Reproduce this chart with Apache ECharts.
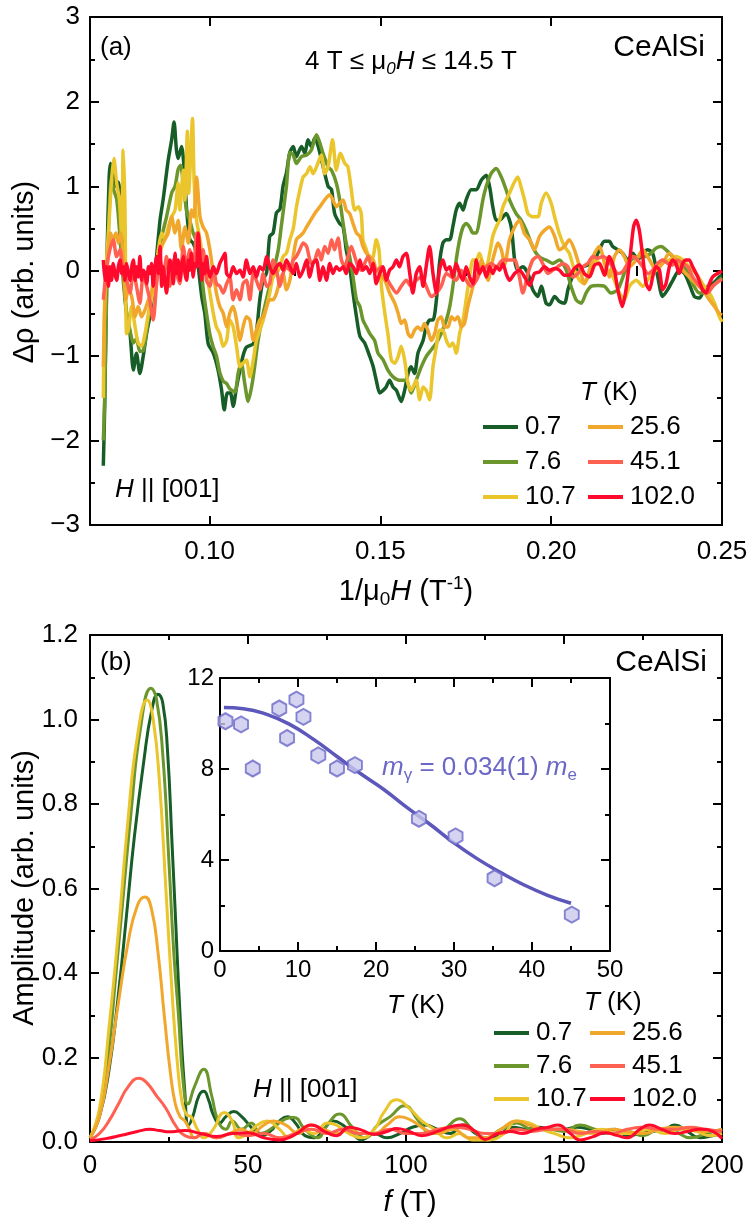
<!DOCTYPE html>
<html>
<head>
<meta charset="utf-8">
<script src="https://cdn.jsdelivr.net/npm/echarts@6/dist/echarts.min.js"></script>
<style>
  html, body { margin: 0; padding: 0; background: #fff; }
  #chart { width: 749px; height: 1222px; }
</style>
</head>
<body>
<div id="chart"></div>
<script>
// temperatures (K) and colours
const temps = ['0.7', '7.6', '10.7', '25.6', '45.1', '102.0'];
const colors = ['#175d27', '#6b962c', '#eac52c', '#f0a72b', '#ff6050', '#ff0a2c'];

// (a) delta rho vs 1/mu0H
const rho07 = [[0.0689,-2.3],[0.0693,-1.6],[0.0700,0.2],[0.0706,1.1],[0.0710,1.27],[0.0716,1.15],[0.0720,1.2],[0.0726,1.0],[0.0733,1.05],[0.0738,0.9],[0.0747,0.05],[0.0757,-0.5],[0.0767,-0.73],[0.0777,-1.17],[0.0786,-0.97],[0.0796,-1.21],[0.0806,-1.0],[0.0816,-0.73],[0.0825,-0.54],[0.0840,-0.03],[0.0855,0.6],[0.0864,0.84],[0.0879,1.31],[0.0889,1.55],[0.0896,1.76],[0.0903,1.43],[0.0908,1.33],[0.0918,1.47],[0.0925,1.24],[0.0933,0.72],[0.0942,0.37],[0.0952,0.33],[0.0962,0.2],[0.0977,-0.3],[0.0986,-0.5],[0.0996,-0.86],[0.1011,-0.97],[0.1025,-1.17],[0.1035,-1.4],[0.1043,-1.64],[0.1052,-1.44],[0.1061,-1.44],[0.1069,-1.6],[0.1079,-1.37],[0.1089,-1.17],[0.1098,-1.0],[0.1108,-0.9],[0.1128,-0.86],[0.1137,-0.73],[0.1147,-0.34],[0.1157,-0.1],[0.1167,-0.02],[0.1176,0.41],[0.1186,0.45],[0.1196,0.69],[0.1206,0.73],[0.1215,1.0],[0.1225,1.16],[0.1235,1.4],[0.1245,1.47],[0.1254,1.35],[0.1269,1.47],[0.1279,1.39],[0.1288,1.55],[0.1298,1.47],[0.1308,1.57],[0.1318,1.47],[0.1332,1.24],[0.1347,1.0],[0.1357,0.96],[0.1366,0.68],[0.1381,0.56],[0.1391,0.52],[0.1400,0.25],[0.1410,0.05],[0.1420,-0.26],[0.1430,-0.54],[0.1440,-0.77],[0.1454,-0.85],[0.1469,-1.01],[0.1479,-1.13],[0.1488,-1.29],[0.1498,-1.44],[0.1508,-1.41],[0.1517,-1.37],[0.1527,-1.29],[0.1537,-1.37],[0.1547,-1.41],[0.1561,-1.54],[0.1571,-1.41],[0.1581,-1.21],[0.1590,-1.13],[0.1600,-1.21],[0.1610,-0.97],[0.1625,-0.82],[0.1634,-0.66],[0.1644,-0.58],[0.1654,-0.58],[0.1664,-0.34],[0.1673,0.09],[0.1683,0.33],[0.1693,0.37],[0.1703,0.37],[0.1712,0.52],[0.1722,0.72],[0.1732,0.8],[0.1742,0.72],[0.1751,0.84],[0.1766,0.96],[0.1781,0.96],[0.1795,1.07],[0.1810,1.13],[0.1820,0.99],[0.1829,0.76],[0.1839,0.6],[0.1849,0.6],[0.1868,0.68],[0.1883,0.52],[0.1893,0.13],[0.1902,0.01],[0.1917,0.05],[0.1932,-0.03],[0.1946,-0.22],[0.1961,-0.30],[0.1971,-0.18],[0.1985,-0.38],[0.1995,-0.40],[0.2010,-0.30],[0.2024,-0.36],[0.2039,-0.38],[0.2049,-0.22],[0.2058,-0.11],[0.2073,0.01],[0.2093,0.05],[0.2107,0.07],[0.2127,0.13],[0.2141,0.25],[0.2156,0.35],[0.2170,0.35],[0.2180,0.29],[0.2195,0.25],[0.2209,0.21],[0.2224,0.13],[0.2239,0.21],[0.2253,0.13],[0.2268,0.21],[0.2283,0.25],[0.2297,0.21],[0.2312,-0.07],[0.2326,-0.30],[0.2341,-0.22],[0.2356,-0.11],[0.2375,0.01],[0.2390,-0.03],[0.2404,-0.15],[0.2419,-0.30],[0.2434,-0.32],[0.2448,-0.22],[0.2463,-0.17],[0.2478,-0.13],[0.2492,-0.07],[0.25,-0.05]];
const rho76 = [[0.0689,-2.0],[0.0693,-1.5],[0.0700,0.0],[0.0708,0.9],[0.0713,1.1],[0.0720,0.95],[0.0728,0.85],[0.0736,0.5],[0.0747,-0.1],[0.0757,-0.5],[0.0767,-0.7],[0.0777,-0.85],[0.0786,-0.8],[0.0796,-0.95],[0.0806,-0.94],[0.0816,-0.7],[0.0830,-0.3],[0.0845,0.0],[0.0860,0.4],[0.0874,0.64],[0.0889,0.92],[0.0899,1.0],[0.0908,1.2],[0.0915,1.25],[0.0923,1.04],[0.0933,0.7],[0.0942,0.6],[0.0952,0.45],[0.0962,0.35],[0.0972,0.17],[0.0981,-0.2],[0.0991,-0.5],[0.1001,-0.75],[0.1011,-0.9],[0.1020,-1.0],[0.1030,-1.2],[0.1040,-1.3],[0.1050,-1.33],[0.1059,-1.39],[0.1074,-1.43],[0.1084,-1.2],[0.1093,-1.09],[0.1103,-1.33],[0.1113,-1.54],[0.1123,-1.37],[0.1132,-1.13],[0.1142,-0.82],[0.1157,-0.5],[0.1171,-0.26],[0.1186,-0.02],[0.1201,0.25],[0.1210,0.53],[0.1225,1.0],[0.1235,1.4],[0.1245,1.37],[0.1254,1.27],[0.1269,1.35],[0.1284,1.37],[0.1298,1.43],[0.1313,1.61],[0.1323,1.51],[0.1332,1.39],[0.1347,1.23],[0.1357,1.19],[0.1371,1.04],[0.1381,0.84],[0.1391,0.56],[0.1400,0.33],[0.1410,0.17],[0.1420,-0.07],[0.1430,-0.34],[0.1440,-0.42],[0.1449,-0.58],[0.1459,-0.66],[0.1469,-0.74],[0.1483,-0.82],[0.1493,-0.97],[0.1508,-1.05],[0.1522,-1.17],[0.1537,-1.25],[0.1556,-1.29],[0.1576,-1.29],[0.1590,-1.44],[0.1605,-1.29],[0.1620,-1.13],[0.1634,-1.01],[0.1649,-0.93],[0.1664,-0.85],[0.1678,-0.74],[0.1693,-0.58],[0.1703,-0.42],[0.1712,-0.19],[0.1722,0.13],[0.1732,0.37],[0.1742,0.52],[0.1751,0.56],[0.1761,0.52],[0.1771,0.45],[0.1781,0.45],[0.1790,0.6],[0.1800,0.84],[0.1810,1.0],[0.1824,1.15],[0.1839,1.21],[0.1854,1.11],[0.1868,0.96],[0.1878,0.84],[0.1897,0.68],[0.1912,0.6],[0.1927,0.48],[0.1941,0.33],[0.1956,0.21],[0.1971,0.15],[0.1985,0.13],[0.2005,0.09],[0.2024,0.13],[0.2044,0.01],[0.2058,-0.18],[0.2073,-0.34],[0.2088,-0.38],[0.2102,-0.26],[0.2117,-0.18],[0.2136,-0.17],[0.2156,-0.18],[0.2175,-0.26],[0.2195,-0.22],[0.2214,-0.03],[0.2234,0.13],[0.2253,0.17],[0.2273,0.17],[0.2292,0.21],[0.2307,0.27],[0.2322,0.29],[0.2336,0.25],[0.2356,0.17],[0.2375,0.09],[0.2395,0.01],[0.2414,-0.15],[0.2434,-0.26],[0.2453,-0.26],[0.2473,-0.18],[0.2492,-0.11],[0.25,-0.08]];
const rho107 = [[0.0689,-1.5],[0.0694,-0.18],[0.0704,0.45],[0.0713,1.07],[0.0720,1.33],[0.0728,1.04],[0.0736,0.84],[0.0743,0.37],[0.0747,1.43],[0.0752,0.84],[0.0757,-0.74],[0.0762,-0.7],[0.0772,-0.42],[0.0782,-0.66],[0.0791,-0.85],[0.0801,-0.89],[0.0811,-0.74],[0.0821,-0.5],[0.0830,-0.34],[0.0840,-0.11],[0.0850,0.25],[0.0860,0.45],[0.0869,0.37],[0.0879,0.52],[0.0889,0.64],[0.0899,0.72],[0.0908,1.04],[0.0913,0.72],[0.0923,1.19],[0.0928,0.84],[0.0935,1.65],[0.0939,0.92],[0.0945,1.39],[0.0950,1.8],[0.0955,1.04],[0.0962,0.6],[0.0972,0.37],[0.0981,0.13],[0.0991,-0.03],[0.1001,-0.26],[0.1011,-0.5],[0.1020,-0.66],[0.1030,-0.74],[0.1040,-0.89],[0.1050,-0.82],[0.1059,-0.58],[0.1069,-0.66],[0.1079,-0.89],[0.1089,-1.13],[0.1098,-1.09],[0.1108,-1.05],[0.1118,-1.25],[0.1128,-1.05],[0.1137,-0.82],[0.1147,-0.7],[0.1157,-0.58],[0.1167,-0.42],[0.1176,-0.26],[0.1186,-0.07],[0.1196,-0.03],[0.1206,0.05],[0.1215,0.17],[0.1225,0.21],[0.1235,0.37],[0.1245,0.5],[0.1254,0.75],[0.1264,0.95],[0.1274,1.11],[0.1284,1.15],[0.1294,1.23],[0.1303,1.15],[0.1313,1.23],[0.1327,1.37],[0.1337,1.15],[0.1347,1.23],[0.1360,1.55],[0.1371,1.19],[0.1383,1.39],[0.1396,1.27],[0.1405,1.23],[0.1415,0.96],[0.1425,0.72],[0.1435,0.76],[0.1444,0.68],[0.1449,0.37],[0.1459,0.25],[0.1469,0.13],[0.1479,0.17],[0.1488,0.37],[0.1496,0.25],[0.1503,-0.18],[0.1513,-0.5],[0.1522,-0.74],[0.1532,-1.05],[0.1542,-1.09],[0.1552,-1.01],[0.1561,-0.89],[0.1571,-1.05],[0.1581,-1.33],[0.1590,-1.41],[0.1605,-1.29],[0.1615,-1.52],[0.1625,-1.37],[0.1634,-1.41],[0.1644,-1.52],[0.1654,-1.13],[0.1664,-0.89],[0.1673,-0.7],[0.1683,-0.7],[0.1693,-0.82],[0.1703,-0.89],[0.1712,-0.85],[0.1722,-0.97],[0.1732,-0.74],[0.1742,-0.58],[0.1751,-0.34],[0.1761,-0.07],[0.1771,0.13],[0.1781,0.13],[0.1790,0.21],[0.1800,0.09],[0.1810,0.05],[0.1820,0.21],[0.1829,0.41],[0.1839,0.52],[0.1849,0.6],[0.1859,0.76],[0.1868,0.84],[0.1878,0.92],[0.1890,1.03],[0.1902,1.11],[0.1912,0.99],[0.1922,0.84],[0.1932,0.68],[0.1946,0.64],[0.1961,0.64],[0.1971,0.8],[0.1985,0.92],[0.2000,0.8],[0.2010,0.64],[0.2024,0.44],[0.2039,0.29],[0.2053,0.21],[0.2068,0.01],[0.2083,-0.11],[0.2097,-0.15],[0.2112,-0.03],[0.2127,0.13],[0.2141,0.09],[0.2156,-0.03],[0.2170,0.01],[0.2185,-0.11],[0.2200,-0.26],[0.2214,-0.34],[0.2229,-0.18],[0.2249,-0.11],[0.2268,-0.18],[0.2288,-0.07],[0.2307,0.01],[0.2326,0.09],[0.2346,0.13],[0.2365,0.17],[0.2385,0.13],[0.2404,0.05],[0.2424,-0.03],[0.2443,-0.15],[0.2463,-0.26],[0.2478,-0.38],[0.2492,-0.54],[0.25,-0.6]];
const rho256 = [[0.0689,-1.13],[0.0694,-0.34],[0.0704,0.25],[0.0710,0.45],[0.0718,0.37],[0.0726,0.45],[0.0733,0.33],[0.0740,0.45],[0.0747,0.17],[0.0755,-0.34],[0.0762,-0.22],[0.0772,-0.3],[0.0782,-0.54],[0.0791,-0.42],[0.0801,-0.54],[0.0811,-0.46],[0.0821,-0.34],[0.0830,-0.26],[0.0840,0.05],[0.0850,0.13],[0.0860,0.29],[0.0869,0.37],[0.0879,0.45],[0.0889,0.64],[0.0899,0.45],[0.0908,0.6],[0.0918,0.25],[0.0928,0.52],[0.0938,0.33],[0.0947,0.72],[0.0954,0.64],[0.0962,1.11],[0.0972,0.64],[0.0981,0.52],[0.0991,0.45],[0.1001,0.25],[0.1011,-0.03],[0.1020,-0.26],[0.1030,-0.42],[0.1040,-0.5],[0.1050,-0.66],[0.1059,-0.5],[0.1069,-0.42],[0.1079,-0.58],[0.1089,-0.82],[0.1098,-0.66],[0.1108,-0.54],[0.1118,-0.58],[0.1128,-0.82],[0.1137,-0.7],[0.1147,-0.58],[0.1157,-0.54],[0.1167,-0.42],[0.1176,-0.34],[0.1186,-0.34],[0.1196,-0.26],[0.1206,-0.11],[0.1215,-0.03],[0.1225,-0.22],[0.1235,-0.11],[0.1245,0.17],[0.1254,0.37],[0.1264,0.41],[0.1274,0.45],[0.1284,0.52],[0.1308,0.68],[0.1323,0.76],[0.1337,0.84],[0.1352,0.9],[0.1361,0.84],[0.1371,0.76],[0.1381,0.8],[0.1391,0.84],[0.1400,0.72],[0.1410,0.68],[0.1420,0.56],[0.1430,0.45],[0.1440,0.41],[0.1449,0.29],[0.1459,0.21],[0.1479,0.13],[0.1488,0.01],[0.1498,-0.03],[0.1513,-0.11],[0.1527,-0.26],[0.1542,-0.38],[0.1552,-0.5],[0.1561,-0.62],[0.1571,-0.58],[0.1581,-0.74],[0.1590,-0.78],[0.1600,-0.7],[0.1610,-0.66],[0.1620,-0.7],[0.1629,-0.62],[0.1639,-0.7],[0.1649,-0.82],[0.1659,-0.74],[0.1668,-0.58],[0.1678,-0.54],[0.1688,-0.66],[0.1698,-0.66],[0.1708,-0.54],[0.1717,-0.58],[0.1727,-0.54],[0.1737,-0.66],[0.1746,-0.62],[0.1756,-0.42],[0.1766,-0.26],[0.1776,-0.11],[0.1786,-0.03],[0.1795,0.13],[0.1805,0.01],[0.1815,-0.11],[0.1824,0.05],[0.1834,0.21],[0.1844,0.33],[0.1854,0.25],[0.1864,0.08],[0.1878,0.37],[0.1893,0.52],[0.1907,0.6],[0.1922,0.44],[0.1937,0.37],[0.1951,0.25],[0.1966,0.41],[0.1980,0.48],[0.1995,0.52],[0.2010,0.41],[0.2024,0.25],[0.2039,0.29],[0.2053,0.37],[0.2068,0.25],[0.2083,0.05],[0.2097,-0.15],[0.2112,0.01],[0.2127,0.21],[0.2141,0.29],[0.2156,0.09],[0.2170,-0.07],[0.2185,0.17],[0.2200,0.25],[0.2214,0.17],[0.2229,0.05],[0.2249,0.13],[0.2268,0.25],[0.2288,0.13],[0.2307,0.01],[0.2326,0.09],[0.2346,0.21],[0.2365,0.13],[0.2385,0.01],[0.2404,-0.07],[0.2424,-0.15],[0.2443,-0.22],[0.2463,-0.34],[0.2478,-0.42],[0.2492,-0.5],[0.25,-0.52]];
const rho451 = [[0.0689,-0.34],[0.0699,0.05],[0.0708,0.25],[0.0718,0.37],[0.0728,0.17],[0.0738,0.25],[0.0747,-0.03],[0.0757,-0.11],[0.0767,-0.26],[0.0777,0.01],[0.0786,-0.18],[0.0796,-0.38],[0.0806,-0.03],[0.0816,-0.18],[0.0825,-0.34],[0.0835,-0.58],[0.0845,-0.15],[0.0855,0.13],[0.0864,-0.07],[0.0874,0.17],[0.0884,-0.18],[0.0894,0.13],[0.0903,-0.03],[0.0913,-0.15],[0.0923,0.29],[0.0933,0.05],[0.0942,0.25],[0.0952,-0.03],[0.0962,0.45],[0.0972,0.05],[0.0981,0.25],[0.0991,-0.11],[0.1001,-0.18],[0.1011,0.05],[0.1020,-0.15],[0.1030,-0.18],[0.1040,-0.26],[0.1050,-0.15],[0.1059,-0.07],[0.1069,-0.34],[0.1079,-0.22],[0.1089,-0.34],[0.1098,-0.15],[0.1108,-0.11],[0.1118,-0.34],[0.1128,-0.03],[0.1137,-0.11],[0.1147,-0.22],[0.1157,-0.03],[0.1167,-0.18],[0.1176,-0.15],[0.1186,0.13],[0.1196,0.01],[0.1206,-0.18],[0.1215,-0.03],[0.1225,0.05],[0.1235,0.01],[0.1245,0.13],[0.1254,0.17],[0.1264,0.25],[0.1274,0.33],[0.1284,0.29],[0.1298,0.09],[0.1308,0.13],[0.1318,0.25],[0.1327,0.13],[0.1337,0.29],[0.1347,0.21],[0.1357,0.37],[0.1366,0.25],[0.1376,0.39],[0.1386,0.13],[0.1396,0.05],[0.1405,0.17],[0.1415,0.29],[0.1425,0.17],[0.1435,0.05],[0.1444,0.01],[0.1454,0.09],[0.1464,0.17],[0.1474,0.05],[0.1488,0.01],[0.1503,0.05],[0.1517,-0.07],[0.1532,-0.18],[0.1547,-0.26],[0.1561,-0.18],[0.1576,-0.11],[0.1590,-0.18],[0.1605,-0.11],[0.1620,-0.07],[0.1634,-0.18],[0.1649,-0.3],[0.1664,-0.26],[0.1678,-0.18],[0.1693,-0.03],[0.1708,-0.07],[0.1722,-0.11],[0.1737,0.01],[0.1751,-0.11],[0.1766,-0.18],[0.1781,-0.11],[0.1795,0.01],[0.1810,0.05],[0.1824,0.09],[0.1839,0.05],[0.1859,0.13],[0.1878,0.13],[0.1893,0.13],[0.1907,-0.07],[0.1917,-0.26],[0.1932,-0.03],[0.1946,0.13],[0.1961,0.17],[0.1975,0.09],[0.1990,-0.03],[0.2005,0.01],[0.2019,0.05],[0.2034,0.09],[0.2049,0.05],[0.2063,-0.07],[0.2078,-0.03],[0.2093,0.05],[0.2107,0.09],[0.2122,0.17],[0.2136,0.15],[0.2151,0.17],[0.2166,0.13],[0.2180,0.05],[0.2195,-0.03],[0.2209,-0.01],[0.2224,0.09],[0.2239,0.17],[0.2253,0.13],[0.2268,0.05],[0.2283,-0.03],[0.2297,0.01],[0.2312,0.09],[0.2326,0.13],[0.2341,0.09],[0.2356,0.07],[0.2370,0.13],[0.2385,0.09],[0.2400,0.05],[0.2414,-0.07],[0.2429,-0.15],[0.2443,-0.22],[0.2458,-0.26],[0.2473,-0.18],[0.2487,-0.13],[0.25,-0.1]];
const rho1020 = [[0.0689,0.13],[0.0694,-0.11],[0.0699,0.05],[0.0704,-0.18],[0.0708,0.05],[0.0713,-0.11],[0.0718,0.09],[0.0723,-0.03],[0.0728,-0.11],[0.0733,0.05],[0.0738,0.13],[0.0743,-0.03],[0.0747,0.05],[0.0752,-0.11],[0.0757,0.09],[0.0762,-0.03],[0.0767,-0.11],[0.0772,0.05],[0.0777,0.13],[0.0782,-0.11],[0.0786,0.05],[0.0791,-0.07],[0.0796,0.17],[0.0801,-0.11],[0.0806,0.01],[0.0811,-0.03],[0.0816,-0.15],[0.0821,0.05],[0.0825,-0.03],[0.0830,0.09],[0.0835,-0.18],[0.0840,0.05],[0.0845,0.17],[0.0850,-0.03],[0.0855,0.29],[0.0860,-0.18],[0.0864,0.05],[0.0869,-0.11],[0.0874,-0.26],[0.0879,-0.03],[0.0884,0.13],[0.0889,0.05],[0.0894,-0.15],[0.0899,0.21],[0.0903,-0.03],[0.0908,0.13],[0.0913,-0.11],[0.0918,0.05],[0.0923,0.17],[0.0928,-0.03],[0.0933,-0.11],[0.0938,0.13],[0.0942,0.01],[0.0947,0.21],[0.0952,-0.07],[0.0957,0.09],[0.0962,0.05],[0.0967,0.45],[0.0972,0.17],[0.0977,-0.11],[0.0981,0.09],[0.0986,-0.03],[0.0991,0.17],[0.0996,0.01],[0.1001,-0.07],[0.1011,0.05],[0.1020,-0.03],[0.1030,0.09],[0.1040,0.17],[0.1045,0.21],[0.1050,-0.03],[0.1059,-0.07],[0.1069,0.05],[0.1079,-0.03],[0.1089,0.01],[0.1098,-0.07],[0.1108,0.13],[0.1118,-0.03],[0.1128,0.05],[0.1137,-0.07],[0.1147,0.05],[0.1157,0.01],[0.1167,0.17],[0.1176,0.05],[0.1186,-0.03],[0.1196,0.05],[0.1206,0.09],[0.1215,0.01],[0.1225,0.13],[0.1235,0.05],[0.1245,-0.03],[0.1254,0.09],[0.1264,-0.07],[0.1274,0.01],[0.1284,0.13],[0.1293,-0.07],[0.1303,0.09],[0.1313,0.13],[0.1323,-0.11],[0.1332,0.05],[0.1342,-0.11],[0.1352,0.09],[0.1361,-0.03],[0.1371,0.05],[0.1381,0.01],[0.1391,0.05],[0.1400,-0.03],[0.1410,0.09],[0.1420,0.05],[0.1430,-0.03],[0.1440,0.13],[0.1449,0.01],[0.1459,0.05],[0.1469,-0.03],[0.1479,0.09],[0.1488,-0.15],[0.1498,-0.03],[0.1508,0.05],[0.1517,-0.11],[0.1527,0.01],[0.1537,0.05],[0.1547,0.13],[0.1556,0.05],[0.1566,0.17],[0.1576,0.21],[0.1586,-0.03],[0.1595,-0.26],[0.1605,-0.03],[0.1615,0.05],[0.1625,-0.18],[0.1634,0.05],[0.1644,0.29],[0.1654,-0.03],[0.1664,-0.26],[0.1673,0.01],[0.1683,0.13],[0.1693,0.01],[0.1703,0.05],[0.1712,-0.07],[0.1722,0.09],[0.1732,-0.03],[0.1742,-0.11],[0.1751,0.05],[0.1761,-0.07],[0.1771,-0.15],[0.1781,0.13],[0.1790,-0.03],[0.1800,0.05],[0.1810,-0.07],[0.1820,0.05],[0.1829,-0.03],[0.1839,0.05],[0.1849,0.01],[0.1859,0.09],[0.1868,-0.03],[0.1878,-0.11],[0.1893,-0.03],[0.1907,0.01],[0.1922,-0.07],[0.1937,-0.17],[0.1951,-0.03],[0.1966,-0.01],[0.1980,0.05],[0.1995,0.01],[0.2010,0.03],[0.2024,0.01],[0.2039,-0.05],[0.2053,-0.05],[0.2068,0.03],[0.2083,0.07],[0.2097,-0.03],[0.2112,-0.07],[0.2127,0.07],[0.2141,0.09],[0.2156,-0.05],[0.2170,0.17],[0.2185,0.01],[0.2195,-0.22],[0.2208,-0.42],[0.2219,-0.22],[0.2231,0.17],[0.2241,0.52],[0.2249,0.6],[0.2258,0.48],[0.2268,0.17],[0.2278,-0.15],[0.2288,-0.22],[0.2297,-0.07],[0.2307,0.05],[0.2317,0.01],[0.2326,-0.22],[0.2336,-0.15],[0.2346,0.05],[0.2356,0.13],[0.2365,0.09],[0.2375,-0.03],[0.2385,0.09],[0.2395,0.13],[0.2404,0.13],[0.2414,0.05],[0.2429,-0.07],[0.2443,-0.22],[0.2453,-0.26],[0.2463,-0.15],[0.2473,-0.07],[0.2487,-0.03],[0.25,0.0]];

// (b) FFT amplitude vs frequency
const fft07 = [[0,0.01],[3,0.06],[6,0.17],[9,0.35],[11.6,0.54],[14,0.72],[17,0.9],[19.5,1.02],[21.5,1.06],[23,1.04],[24.5,0.93],[26,0.7],[27,0.54],[28.5,0.3],[30,0.12],[31.2,0.04],[32.5,0.06],[34.5,0.11],[36,0.12],[37.5,0.1],[39,0.065],[41,0.045],[43,0.06],[45.5,0.072],[48,0.06],[51,0.035],[54,0.015],[57,0.025],[60,0.05],[62.5,0.06],[65,0.045],[68,0.015],[71,0.01],[74,0.03],[77,0.05],[80,0.04],[83,0.02],[86,0.005],[90,0.02],[94,0.01],[98,0.02],[102,0.035],[106,0.04],[110,0.03],[114,0.02],[118,0.04],[122,0.02],[126,0.005],[130,0.02],[134,0.035],[138,0.03],[142,0.035],[146,0.03],[150,0.03],[154,0.035],[158,0.03],[162,0.02],[166,0.03],[170,0.015],[174,0.02],[178,0.025],[182,0.03],[185,0.04],[189,0.025],[193,0.01],[197,0.015],[200,0.02]];
const fft76 = [[0,0.01],[3,0.07],[6,0.22],[8,0.38],[10,0.54],[13,0.78],[16,0.98],[19.3,1.074],[21,1.05],[23,0.92],[25,0.66],[26.5,0.45],[28,0.3],[29.5,0.14],[31,0.09],[33,0.13],[36,0.172],[38.5,0.11],[40.5,0.05],[43,0.03],[45,0.05],[48,0.03],[51,0.045],[54,0.02],[58,0.035],[62,0.055],[64.5,0.058],[68,0.03],[72,0.01],[75,0.04],[79,0.066],[83,0.035],[87,0.01],[91,0.04],[95,0.06],[99.5,0.086],[104,0.05],[108,0.02],[112,0.03],[117,0.055],[121,0.03],[125,0.01],[130,0.03],[135,0.045],[140,0.03],[145,0.03],[150,0.025],[155,0.04],[160,0.03],[165,0.02],[170,0.025],[175,0.015],[180,0.03],[185,0.025],[190,0.01],[195,0.02],[200,0.03]];
const fft107 = [[0,0.01],[3,0.08],[6,0.27],[9,0.5],[12,0.76],[15,0.96],[18.1,1.046],[20,1.0],[22,0.85],[24,0.6],[26,0.35],[27.5,0.2],[29,0.1],[30.5,0.065],[32,0.06],[34,0.03],[36,0.01],[39,0.03],[42.5,0.07],[45,0.05],[47,0.01],[50,0.02],[53,0.04],[56,0.05],[60,0.03],[63,0.01],[67,0.03],[71,0.02],[75,0.045],[78,0.04],[82,0.02],[86,0.01],[90,0.03],[93,0.07],[97,0.1],[101,0.08],[105,0.05],[109,0.03],[113,0.01],[117,0.02],[121,0.005],[126,0.005],[131,0.02],[135,0.05],[139,0.045],[143,0.03],[147,0.02],[152,0.01],[157,0.02],[162,0.03],[167,0.02],[172,0.02],[177,0.03],[182,0.02],[187,0.03],[192,0.025],[196,0.015],[200,0.02]];
const fft256 = [[0,0.01],[3,0.06],[6,0.18],[9,0.33],[12,0.47],[15,0.56],[17.4,0.58],[19.5,0.55],[21.5,0.45],[23.5,0.3],[25.5,0.16],[27,0.09],[28.5,0.06],[30,0.05],[31.5,0.03],[33,0.01],[36,0.02],[40,0.01],[44,0.02],[48,0.03],[51,0.02],[55,0.04],[58,0.05],[62,0.04],[66,0.02],[70,0.04],[74,0.03],[78,0.02],[82,0.03],[86,0.02],[90,0.02],[94,0.04],[98,0.06],[102,0.05],[106,0.03],[110,0.02],[115,0.03],[120,0.01],[125,0.01],[130,0.03],[135,0.05],[139,0.04],[144,0.03],[150,0.03],[155,0.025],[160,0.02],[165,0.03],[170,0.025],[175,0.02],[180,0.03],[185,0.035],[190,0.03],[195,0.025],[200,0.03]];
const fft451 = [[0,0.005],[3,0.02],[6,0.05],[9,0.09],[12,0.13],[15.5,0.151],[18,0.14],[21,0.11],[24,0.08],[27,0.04],[30,0.015],[33,0.01],[36,0.02],[40,0.01],[45,0.02],[50,0.015],[55,0.02],[60,0.01],[65,0.02],[70,0.03],[75,0.02],[80,0.03],[85,0.02],[90,0.02],[95,0.03],[100,0.02],[105,0.02],[110,0.03],[115,0.035],[120,0.03],[125,0.02],[130,0.02],[135,0.03],[140,0.025],[145,0.03],[150,0.03],[155,0.02],[160,0.025],[165,0.02],[170,0.03],[175,0.035],[180,0.03],[185,0.03],[190,0.035],[195,0.03],[200,0.025]];
const fft1020 = [[0,0.003],[5,0.008],[10,0.016],[15,0.025],[19,0.03],[22,0.027],[25,0.024],[30,0.027],[35,0.02],[40,0.013],[45,0.02],[50,0.022],[55,0.01],[60,0.005],[65,0.018],[70,0.04],[75,0.022],[78,0.015],[82,0.035],[86,0.028],[90,0.018],[94,0.025],[97,0.032],[101,0.025],[105,0.015],[110,0.025],[115,0.038],[118,0.04],[122,0.025],[125,0.006],[129,0.02],[133,0.025],[137,0.02],[141,0.03],[145,0.035],[148,0.04],[152,0.02],[155,0.005],[159,0.012],[163,0.022],[167,0.015],[170,0.01],[174,0.03],[177,0.04],[181,0.03],[185,0.02],[189,0.025],[193,0.03],[197,0.025],[200,0.008]];

// inset: cyclotron mass fit, amplitude vs T
const insetT    = [0.7, 2.7, 4.2, 7.6, 8.6, 9.8, 10.7, 12.6, 15.0, 17.3, 25.5, 30.2, 35.2, 45.1];
const insetAmp  = [10.1, 9.96, 8.02, 10.66, 9.36, 11.05, 10.29, 8.6, 8.02, 8.17, 5.81, 5.04, 3.2, 1.6];
const fitT      = [0.5, 3, 6, 9, 12, 15, 18, 21, 24, 27, 30, 33, 36, 39, 42, 45];
const fitAmp    = [10.7, 10.65, 10.4, 9.95, 9.3, 8.55, 7.8, 7.1, 6.3, 5.55, 4.75, 4.05, 3.45, 2.9, 2.45, 2.1];

// tick positions for the top x axis (its min is not on the tick grid)
const topMajorTicks = [0.10, 0.15, 0.20, 0.25];
const topMinorTicks = [0.075, 0.125, 0.175, 0.225];

const FONT = '"Liberation Sans", Arial, Helvetica, sans-serif';
const black = '#000';

function rich(size, color) {
  const sub = Math.round(size * 0.65);
  return {
    n:   { fontSize: size, fontFamily: FONT, fill: color, lineHeight: size + 6 },
    it:  { fontSize: size, fontFamily: FONT, fill: color, fontStyle: 'italic', lineHeight: size + 6 },
    sub: { fontSize: sub, fontFamily: FONT, fill: color, lineHeight: sub + 2, verticalAlign: 'bottom' },
    subi:{ fontSize: sub, fontFamily: FONT, fill: color, fontStyle: 'italic', lineHeight: sub + 2, verticalAlign: 'bottom' },
    sup: { fontSize: sub, fontFamily: FONT, fill: color, lineHeight: sub + 2, verticalAlign: 'top' }
  };
}

function txt(x, y, text, size, opt) {
  opt = opt || {};
  const color = opt.color || black;
  return {
    type: 'text', x: x, y: y, rotation: opt.rotation || 0, silent: true, z: 100,
    style: {
      text: text, fill: color, fontSize: size, fontFamily: FONT,
      lineHeight: size + 6,
      align: opt.align || 'left', verticalAlign: 'middle',
      rich: rich(size, color)
    }
  };
}

const lineW = 2;
function axisBase(grid, pos, showLabel) {
  return {
    gridIndex: grid, type: 'value', position: pos,
    axisLine: { show: true, onZero: false, lineStyle: { color: black, width: lineW } },
    axisTick: { show: true, inside: true, length: 9, lineStyle: { color: black, width: lineW } },
    minorTick: { show: true, splitNumber: 2, length: 5, lineStyle: { color: black, width: lineW } },
    axisLabel: { show: showLabel, color: black, fontSize: 26, fontFamily: FONT, margin: 12 },
    splitLine: { show: false }, minorSplitLine: { show: false }
  };
}

function xAxisPair(grid, min, max, interval, labelFmt, margin, fontSize) {
  const list = [];
  ['bottom', 'top'].forEach(function (pos) {
    const a = axisBase(grid, pos, pos === 'bottom');
    a.min = min; a.max = max; a.interval = interval;
    a.axisLabel.formatter = labelFmt;
    a.axisLabel.margin = margin;
    if (fontSize) a.axisLabel.fontSize = fontSize;
    list.push(a);
  });
  return list;
}
function yAxisPair(grid, min, max, interval, labelFmt, margin, fontSize) {
  const list = [];
  ['left', 'right'].forEach(function (pos) {
    const a = axisBase(grid, pos, pos === 'left');
    a.min = min; a.max = max; a.interval = interval;
    a.axisLabel.formatter = labelFmt;
    a.axisLabel.margin = margin;
    if (fontSize) a.axisLabel.fontSize = fontSize;
    list.push(a);
  });
  return list;
}

const minus = v => String(v).replace('-', '\u2212');

// top panel x axes: major (bottom/top) + minor-only (bottom/top)
const topX = [];
['bottom', 'top'].forEach(function (pos) {
  const a = axisBase(0, pos, pos === 'bottom');
  a.min = 0.065; a.max = 0.25;
  a.minorTick = { show: false };
  a.axisTick.customValues = topMajorTicks;
  a.axisLabel.customValues = topMajorTicks;
  a.axisLabel.formatter = v => v.toFixed(2);
  a.axisLabel.margin = 14;
  topX.push(a);
});
['bottom', 'top'].forEach(function (pos) {
  const a = axisBase(0, pos, false);
  a.min = 0.065; a.max = 0.25;
  a.minorTick = { show: false };
  a.axisLine = { show: false };
  a.axisTick.customValues = topMinorTicks;
  a.axisTick.length = 5;
  topX.push(a);
});

const xAxes = topX
  .concat(xAxisPair(1, 0, 200, 50, v => String(v), 11))
  .concat(xAxisPair(2, 0, 50, 10, v => String(v), 7, 24));
const yAxes = yAxisPair(0, -3, 3, 1, minus, 10)
  .concat(yAxisPair(1, 0, 1.2, 0.2, v => v.toFixed(1), 12))
  .concat(yAxisPair(2, 0, 12, 4, v => String(v), 6, 24));

const topData = [rho07, rho76, rho107, rho256, rho451, rho1020];
const fftData = [fft07, fft76, fft107, fft256, fft451, fft1020];

const series = [];
topData.forEach(function (d, i) {
  series.push({
    name: temps[i], type: 'line', xAxisIndex: 0, yAxisIndex: 0,
    data: d, showSymbol: false, smooth: 0.25, color: colors[i],
    lineStyle: { width: 3.5, color: colors[i] }, silent: true
  });
});
fftData.forEach(function (d, i) {
  series.push({
    name: temps[i], type: 'line', xAxisIndex: 4, yAxisIndex: 2,
    data: d, showSymbol: false, smooth: 0.5, color: colors[i],
    lineStyle: { width: 3, color: colors[i] }, silent: true
  });
});
series.push({
  name: 'fit', type: 'line', xAxisIndex: 6, yAxisIndex: 4,
  data: fitT.map((t, i) => [t, fitAmp[i]]),
  showSymbol: false, smooth: true,
  lineStyle: { width: 3.5, color: '#5d57bb' }, silent: true
});
series.push({
  name: 'data', type: 'scatter', xAxisIndex: 6, yAxisIndex: 4,
  data: insetT.map((t, i) => [t, insetAmp[i]]),
  symbol: 'path://M0,-10L8.66,-5L8.66,5L0,10L-8.66,5L-8.66,-5Z',
  symbolSize: [14, 16],
  itemStyle: { color: '#c9c8ec', borderColor: '#6c68c8', borderWidth: 2 },
  z: 5, silent: true
});

function legendCol(left, top, gap, names) {
  return {
    orient: 'vertical', left: left, top: top, itemWidth: 35, itemHeight: 4,
    itemGap: gap, icon: 'rect', selectedMode: false, padding: 0,
    textStyle: { fontSize: 26, fontFamily: FONT, color: black, lineHeight: 30, padding: [0, 0, 0, 2] },
    data: names
  };
}

const option = {
  animation: false,
  backgroundColor: '#fff',
  grid: [
    { left: 90, top: 17, width: 632, height: 508, outerBoundsMode: 'none' },
    { left: 90, top: 635, width: 632, height: 507, outerBoundsMode: 'none' },
    { left: 220, top: 678, width: 390, height: 273, outerBoundsMode: 'none' }
  ],
  xAxis: xAxes,
  yAxis: yAxes,
  legend: [
    legendCol(483, 412, 5, ['0.7', '7.6', '10.7']),
    legendCol(588, 412, 5, ['25.6', '45.1', '102.0']),
    legendCol(494, 1018, 3, ['0.7', '7.6', '10.7']),
    legendCol(590, 1018, 3, ['25.6', '45.1', '102.0'])
  ],
  series: series,
  graphic: [
    txt(100, 48, '(a)', 26),
    txt(305, 62, '4 T \u2264 \u03bc{subi|0}{it|H} \u2264 14.5 T', 26),
    txt(705, 48, 'CeAlSi', 30, { align: 'right' }),
    txt(580, 393, '{it|T} (K)', 26),
    txt(115, 490, '{it|H} || [001]', 26),
    txt(406, 592, '1/\u03bc{sub|0}{it|H} (T{sup|-1})', 29, { align: 'center' }),
    txt(25, 272, '\u0394\u03c1 (arb. units)', 29, { align: 'center', rotation: Math.PI / 2 }),
    txt(100, 663, '(b)', 26),
    txt(707, 663, 'CeAlSi', 30, { align: 'right' }),
    txt(382, 768, '{it|m}{sub|\u03b3} = 0.034(1) {it|m}{sub|e}', 26, { color: '#6b67c6' }),
    txt(416, 1006, '{it|T} (K)', 26, { align: 'center' }),
    txt(584, 1003, '{it|T} (K)', 26),
    txt(253, 1090, '{it|H} || [001]', 26),
    txt(410, 1203, '{it|f} (T)', 29, { align: 'center' }),
    txt(25, 888, 'Amplitude (arb. units)', 29, { align: 'center', rotation: Math.PI / 2 })
  ]
};

const chart = echarts.init(document.getElementById('chart'), null, { renderer: 'canvas' });
chart.setOption(option);
</script>
</body>
</html>
